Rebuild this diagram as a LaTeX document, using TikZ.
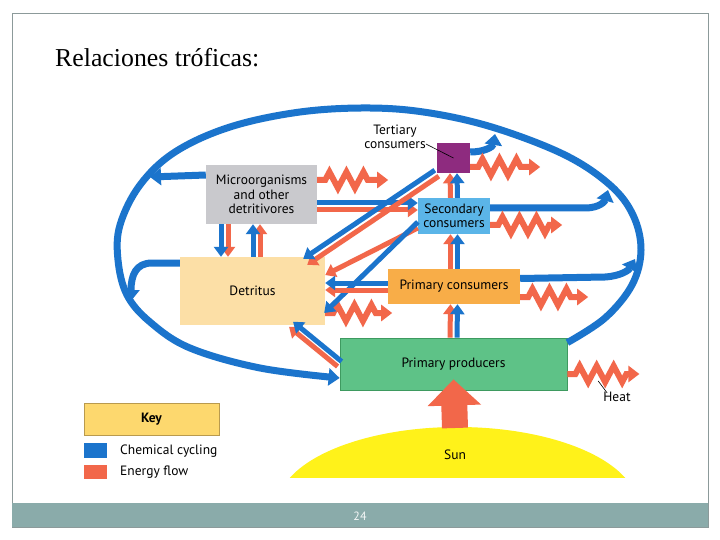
\documentclass[tikz,border=0pt]{standalone}
\usepackage{fontspec}
\setmainfont{PT Sans}
\newfontfamily\titlefont{Liberation Serif}
\usetikzlibrary{arrows.meta,decorations.pathmorphing}
\definecolor{cblue}{HTML}{1B74CC}
\definecolor{cred}{HTML}{F2674A}
\definecolor{microc}{HTML}{C9C9CD}
\definecolor{detrc}{HTML}{FCDFA6}
\definecolor{tertc}{HTML}{8E2B7F}
\definecolor{secc}{HTML}{5BB5E8}
\definecolor{primc}{HTML}{F8AD48}
\definecolor{prodc}{HTML}{5EC287}
\definecolor{prodedge}{HTML}{3E9A60}
\definecolor{sunc}{HTML}{FFF21A}
\definecolor{keyc}{HTML}{FDD86E}
\definecolor{keyedge}{HTML}{B99A4E}
\definecolor{barc}{HTML}{8AABAA}
\definecolor{framec}{HTML}{8C9A9A}
\begin{document}
\begin{tikzpicture}[x=1pt,y=-1pt,
  box/.style={inner sep=0pt, align=center, font=\fontsize{13.5}{14.5}\selectfont},
  chem/.style={draw=cblue, line width=5pt, -{Triangle[width=14pt,length=10pt]}},
  enrg/.style={draw=cred, line width=5pt, -{Triangle[width=14pt,length=10pt]}},
  ret/.style={draw=cblue, line width=7pt, -{Triangle[width=17pt,length=11pt]}},
  heat/.style={draw=cred, line width=6pt, decorate,
    decoration={zigzag, segment length=17pt, amplitude=8pt, pre length=8pt, post length=13pt},
    -{Triangle[width=16pt,length=11pt]}},
  lbl/.style={inner sep=0pt, align=center, font=\fontsize{13.5}{14.5}\selectfont}]
\useasboundingbox (0,0) rectangle (720,540);
\fill[white] (0,0) rectangle (720,540);
\draw[framec, line width=0.8pt] (12,13) rectangle (708,527);
\fill[barc] (12,503) rectangle (708,527);
\node[text=white!92!barc, font=\fontsize{12}{14}\selectfont] (page) at (360,516) {24};
\node[anchor=west, inner sep=0pt, font=\titlefont\fontsize{25.8}{30}\selectfont] (title) at (55,58) {Relaciones tróficas:};

% sun
\begin{scope}
\clip (270,420) rectangle (650,477);
\fill[sunc] (457.5,507) ellipse [x radius=180pt, y radius=80pt];
\end{scope}
\node[lbl] (sunl) at (455,455) {Sun};
\coordinate (suntop) at (455,428);

% boxes
\node[box, fill=microc, minimum width=111pt, minimum height=59pt] (micro) at (261.5,194.5) {Microorganisms\\and other\\detritivores};
\node[box, fill=detrc, minimum width=145pt, minimum height=68pt] (detr) at (252.5,291) {Detritus};
\node[box, fill=tertc, minimum width=33pt, minimum height=30pt] (tert) at (453.5,158) {};
\node[box, fill=secc, minimum width=72pt, minimum height=36pt] (sec) at (454,216) {Secondary\\consumers};
\node[box, fill=primc, minimum width=132pt, minimum height=35pt] (pc) at (454,286.5) {Primary consumers};
\node[box, fill=prodc, draw=prodedge, line width=0.8pt, minimum width=227pt, minimum height=52pt] (pp) at (453.5,364) {Primary producers};

% big loop
\draw[ret] plot[smooth, tension=0.6] coordinates {([yshift=-5pt]pp.north east) (605,318) (632,285) (641,250) (633,215) (610,185) (565,155) (495,128) (430,113) (370,108) (300,112) (230,127) (175,152) (140,185) (120,225) (118,260) (127,295) (150,322) (190,348) (260,368) ([yshift=-14pt]pp.west)};

% returns to loop
\coordinate (mEnd) at (150,177);
\coordinate (dEnd) at (131,301);
\coordinate (tEnd) at (495,134);
\coordinate (sEnd) at (608,190);
\coordinate (pEnd) at (635,259);
\draw[ret] ([yshift=19.5pt]micro.west) -- (mEnd);
\draw[ret] ([yshift=28pt]detr.west) -- (152,263) .. controls (136,263) and (131,275) .. (dEnd);
\draw[ret] ([yshift=6pt]tert.east) .. controls (484,152) and (493,147) .. (tEnd);
\draw[ret] ([yshift=8pt]sec.east) -- (585,208) .. controls (600,208) and (605,201) .. (sEnd);
\draw[ret] ([yshift=8pt]pc.east) -- (605,277) .. controls (621,276) and (629,270) .. (pEnd);

% heat
\draw[heat] ([yshift=14.5pt]micro.east) -- ++(71,0);
\draw[heat] ([yshift=-9pt]tert.east) -- ++(70,0);
\draw[heat] ([yshift=-9pt]sec.east) -- ++(72,0);
\draw[heat] ([yshift=-10.5pt]pc.east) -- ++(68,0);
\draw[heat] ([yshift=-22pt]detr.east) -- ++(67,0);
\draw[heat] ([yshift=-10pt]pp.east) -- ++(72,0);
\node[lbl] (heatl) at (617,397) {Heat};
\draw[line width=0.6pt] ([shift={(4,1)}]heatl.north west) -- ++(-9,-12);

% sunlight
\draw[draw=cred, line width=26pt, -{Triangle[width=52pt,length=26pt]}] (suntop) -- ([yshift=11pt]pp.south);

% trophic twin arrows
\draw[enrg] ([xshift=-3.5pt]pp.north) -- ([xshift=-3.5pt]pc.south);
\draw[chem] ([xshift=3.5pt]pp.north) -- ([xshift=3.5pt]pc.south);
\draw[enrg] ([xshift=-3.5pt]pc.north) -- ([xshift=-3.5pt]sec.south);
\draw[chem] ([xshift=3.5pt]pc.north) -- ([xshift=3.5pt]sec.south);
\draw[enrg] ([xshift=-3.5pt]sec.north) -- ([xshift=-3.5pt]tert.south);
\draw[chem] ([xshift=3.5pt]sec.north) -- ([xshift=3.5pt]tert.south);

% micro -> secondary
\draw[enrg] ([yshift=-15.5pt]micro.east) -- ([yshift=6pt]sec.west);
\draw[chem] ([yshift=-8.5pt]micro.east) -- ([yshift=13pt]sec.west);

% to detritus
\draw[enrg] ([shift={(2,3)}]tert.south west) -- ([shift={(-18,8)}]detr.north east);
\draw[chem] ([shift={(-2,-3)}]tert.south west) -- ([shift={(-22,2)}]detr.north east);
\draw[enrg] ([yshift=-12pt]sec.west) -- ([yshift=16pt]detr.east);
\draw[chem] ([yshift=-6pt]sec.west) -- ([shift={(-1,22)}]detr.east);
\draw[enrg] ([yshift=-3.5pt]pc.west) -- ([yshift=1pt]detr.east);
\draw[chem] ([yshift=3.5pt]pc.west) -- ([yshift=8pt]detr.east);
\draw[enrg] ([shift={(-2,2.5)}]pp.west) -- ([shift={(36.5,1.5)}]detr.south);
\draw[chem] ([shift={(2,-2.5)}]pp.west) -- ([shift={(40.5,-3.5)}]detr.south);

% micro <-> detritus
\draw[enrg] ([xshift=-33.5pt]micro.south) -- ([xshift=-24.5pt]detr.north);
\draw[chem] ([xshift=-40.5pt]micro.south) -- ([xshift=-31.5pt]detr.north);
\draw[enrg] ([xshift=7.5pt]detr.north) -- ([xshift=-1.5pt]micro.south);
\draw[chem] ([xshift=0.5pt]detr.north) -- ([xshift=-8.5pt]micro.south);

% tertiary label
\node[lbl] (tlab) at (395,137) {Tertiary\\consumers};
\draw[line width=0.6pt] ([yshift=-7pt]tlab.east) -- (tert.center);

% key
\node[box, fill=keyc, draw=keyedge, line width=0.8pt, minimum width=135pt, minimum height=32pt, font=\bfseries\fontsize{13.5}{14.5}\selectfont] (key) at (151.5,419) {Key};
\node[fill=cblue, inner sep=0pt, minimum width=23pt, minimum height=15pt] (kb) at (95.5,450.5) {};
\node[fill=cred, inner sep=0pt, minimum width=23pt, minimum height=14pt] (kr) at (95.5,472) {};
\node[lbl, anchor=west] (kbl) at (120,451) {Chemical cycling};
\node[lbl, anchor=west] (krl) at (120,472) {Energy flow};
\end{tikzpicture}
\end{document}
